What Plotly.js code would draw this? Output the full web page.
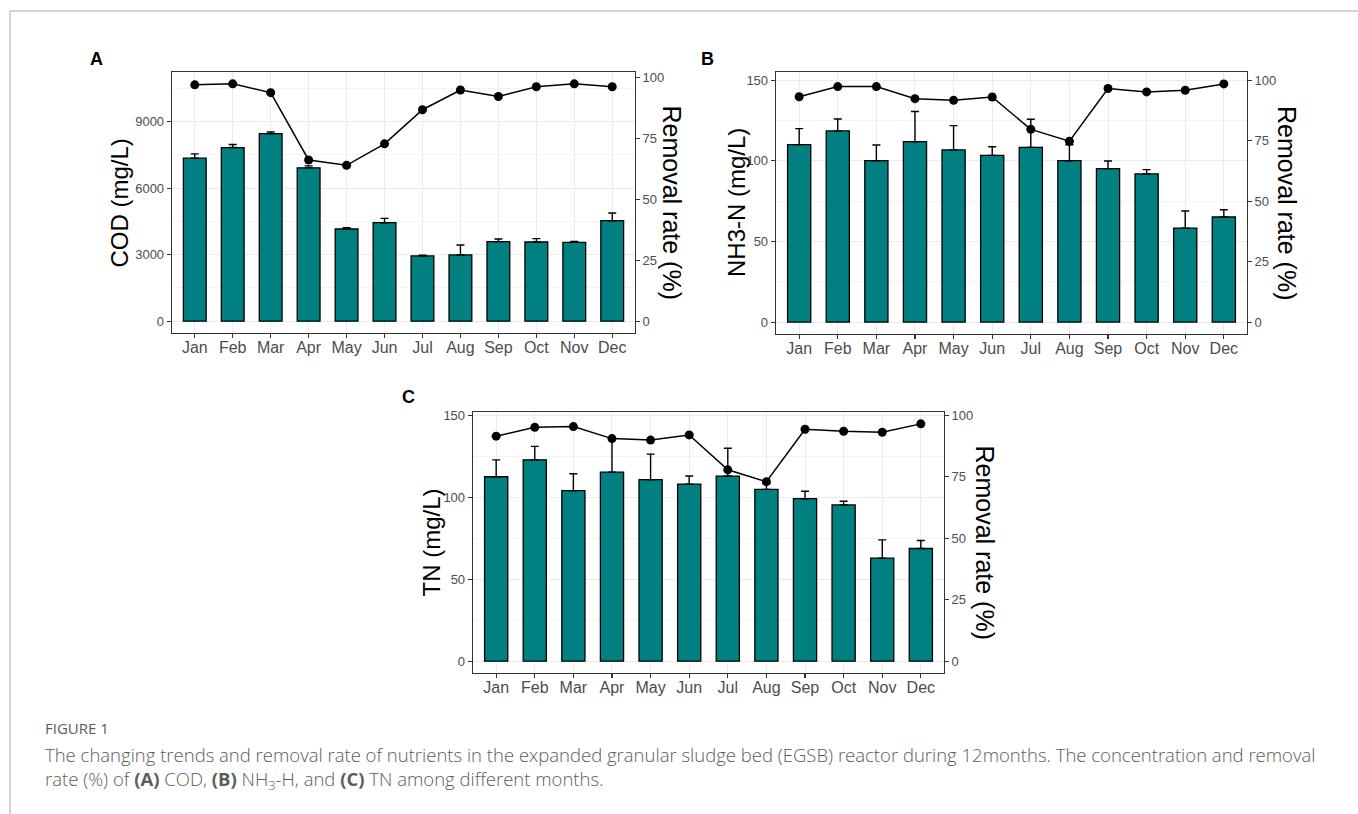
<!DOCTYPE html>
<html>
<head>
<meta charset="utf-8">
<script src="https://cdn.plot.ly/plotly-3.0.1.min.js"></script>
<style>
  html, body { margin: 0; padding: 0; background: #ffffff; }
  #chart { width: 1358px; height: 814px; }
</style>
</head>
<body>
<div id="chart"></div>
<script>
// ---------------- data ----------------
const months = ['Jan', 'Feb', 'Mar', 'Apr', 'May', 'Jun', 'Jul', 'Aug', 'Sep', 'Oct', 'Nov', 'Dec'];

// (A) COD, mg/L
const codMean    = [7350, 7830, 8460, 6915, 4155, 4440, 2940, 2985, 3585, 3570, 3555, 4530];
const codSD      = [195, 135, 75, 90, 60, 195, 30, 450, 120, 150, 45, 345];
const codRemoval = [96.9, 97.3, 93.7, 66.1, 63.9, 72.7, 86.7, 94.8, 92.1, 96.1, 97.3, 96.1];

// (B) NH3-N, mg/L
const nh3Mean    = [110.1, 118.6, 100.1, 111.9, 106.8, 103.4, 108.4, 100.1, 95.2, 91.9, 58.3, 65.2];
const nh3SD      = [9.9, 7.4, 9.8, 18.7, 15.1, 5.4, 17.4, 9.9, 4.7, 2.7, 10.6, 4.5];
const nh3Removal = [93.2, 97.4, 97.4, 92.4, 91.7, 93.1, 79.7, 74.8, 96.6, 95.2, 95.9, 98.5];

// (C) TN, mg/L
const tnMean     = [112.5, 122.8, 104.0, 115.3, 110.7, 108.0, 112.9, 104.8, 99.1, 95.3, 62.8, 68.7];
const tnSD       = [10.3, 8.2, 10.3, 19.7, 15.6, 4.9, 17.0, 3.4, 4.5, 2.2, 11.2, 4.9];
const tnRemoval  = [91.5, 95.1, 95.4, 90.5, 89.9, 92.0, 77.8, 73.0, 94.3, 93.5, 93.1, 96.5];

// secondary-axis scale factors (concentration = rate * factor)
const codFactor = 110;
const nFactor = 1.5;

// axis tick steps
const codTickStep = 3000;
const nTickStep = 50;
const rateTickStep = 25;

// text
const panelLetters = ['A', 'B', 'C'];
const leftTitles = ['COD (mg/L)', 'NH3-N (mg/L)', 'TN (mg/L)'];
const rightTitle = 'Removal rate (%)';
const captionHead = 'FIGURE 1';
const captionLine1 = 'The changing trends and removal rate of nutrients in the expanded granular sludge bed (EGSB) reactor during 12months. The concentration and removal';
const captionLine2 = 'rate (%) of <b>(A)</b> COD, <b>(B)</b> NH<sub>3</sub>-H, and <b>(C)</b> TN among different months.';

// ---------------- layout helpers ----------------
const W = 1358, H = 814;
const fx = p => p / W;
const fy = p => 1 - p / H;

const TEAL = '#008080';
const FRAME = '#333333';
const GRID = '#ebebeb';
const GRID_MINOR = '#f3f3f3';
const TICKTXT = '#4d4d4d';
const SANS = 'Liberation Sans, Arial, sans-serif';

const panels = [
  { mean: codMean, sd: codSD, rate: codRemoval, factor: codFactor, step: codTickStep,
    frame: { l: 172, r: 635, t: 72, b: 333 }, letter: { x: 96, y: 59 },
    leftX: 119, rightX: 671 },
  { mean: nh3Mean, sd: nh3SD, rate: nh3Removal, factor: nFactor, step: nTickStep,
    frame: { l: 776, r: 1247, t: 72, b: 334 }, letter: { x: 707, y: 59 },
    leftX: 736, rightX: 1287 },
  { mean: tnMean, sd: tnSD, rate: tnRemoval, factor: nFactor, step: nTickStep,
    frame: { l: 473, r: 944, t: 412, b: 673 }, letter: { x: 408, y: 397 },
    leftX: 431, rightX: 985 }
];

const data = [];
const layout = {
  width: W, height: H,
  margin: { l: 0, r: 0, t: 0, b: 0, pad: 0 },
  paper_bgcolor: '#ffffff',
  plot_bgcolor: '#ffffff',
  showlegend: false,
  font: { family: SANS, color: '#000' },
  annotations: [],
  shapes: [
    { type: 'line', xref: 'paper', yref: 'paper', x0: fx(10), x1: 1, y0: fy(11), y1: fy(11),
      line: { color: '#c6c6c6', width: 1.5 } },
    { type: 'line', xref: 'paper', yref: 'paper', x0: fx(10), x1: fx(10), y0: fy(11), y1: 0,
      line: { color: '#c6c6c6', width: 1.5 } }
  ]
};

panels.forEach((p, i) => {
  const xa = i === 0 ? 'x' : 'x' + (i + 1);
  const ya = 'y' + (i === 0 ? '' : (2 * i + 1));
  const ya2 = 'y' + (2 * i + 2);
  const xKey = 'xaxis' + (i === 0 ? '' : (i + 1));
  const yKey = 'yaxis' + (i === 0 ? '' : (2 * i + 1));
  const y2Key = 'yaxis' + (2 * i + 2);

  // ggplot-like range: data 0..max, 5% expansion
  const maxTop = Math.max(
    Math.max(...p.mean.map((m, k) => m + p.sd[k])),
    Math.max(...p.rate.map(r => r * p.factor))
  );
  const yr = [-0.05 * maxTop, 1.05 * maxTop];

  data.push({
    type: 'bar', x: months, y: p.mean, xaxis: xa, yaxis: ya,
    width: 0.6,
    marker: { color: TEAL, line: { color: '#000', width: 1.3 } },
    error_y: { type: 'data', symmetric: false, array: p.sd, arrayminus: p.sd.map(() => 0),
               color: '#000', thickness: 1.4, width: 4 },
    hoverinfo: 'skip'
  });
  data.push({
    type: 'scatter', mode: 'lines+markers', x: months, y: p.rate, xaxis: xa, yaxis: ya2,
    line: { color: '#000', width: 1.5 },
    marker: { color: '#000', size: 9 },
    hoverinfo: 'skip'
  });

  layout[xKey] = {
    domain: [fx(p.frame.l), fx(p.frame.r)], anchor: ya,
    type: 'category', range: [-0.6, 11.6],
    showline: true, mirror: true, linecolor: FRAME, linewidth: 1.3,
    ticks: 'outside', ticklen: 4, tickwidth: 1.1, tickcolor: FRAME,
    ticklabelstandoff: -5,
    showgrid: true, gridcolor: GRID, gridwidth: 1, zeroline: false,
    tickfont: { family: SANS, size: 16, color: TICKTXT },
    fixedrange: true
  };
  layout[yKey] = {
    domain: [fy(p.frame.b), fy(p.frame.t)], anchor: xa,
    range: yr, tickmode: 'linear', tick0: 0, dtick: p.step,
    tickformat: 'd', separatethousands: false, exponentformat: 'none',
    showline: true, mirror: true, linecolor: FRAME, linewidth: 1.3,
    ticks: 'outside', ticklen: 4, tickwidth: 1.1, tickcolor: FRAME,
    showgrid: true, gridcolor: GRID, gridwidth: 1, zeroline: false,
    minor: { dtick: p.step / 2, tick0: 0, showgrid: true, gridcolor: GRID_MINOR, gridwidth: 1, ticks: '' },
    tickfont: { family: SANS, size: 13, color: TICKTXT },
    fixedrange: true
  };
  layout[y2Key] = {
    overlaying: ya, anchor: xa, side: 'right',
    range: [yr[0] / p.factor, yr[1] / p.factor], tickmode: 'linear', tick0: 0, dtick: rateTickStep,
    showline: false, showgrid: false, zeroline: false,
    ticks: 'outside', ticklen: 4, tickwidth: 1.1, tickcolor: FRAME,
    tickfont: { family: SANS, size: 13, color: TICKTXT },
    fixedrange: true
  };

  const cy = (p.frame.t + p.frame.b) / 2;
  layout.annotations.push(
    { xref: 'paper', yref: 'paper', x: fx(p.letter.x), y: fy(p.letter.y), text: '<b>' + panelLetters[i] + '</b>',
      showarrow: false, xanchor: 'center', yanchor: 'middle', font: { family: SANS, size: 18, color: '#000' } },
    { xref: 'paper', yref: 'paper', x: fx(p.leftX), y: fy(cy), text: leftTitles[i], textangle: -90,
      showarrow: false, xanchor: 'center', yanchor: 'middle', font: { family: SANS, size: 24, color: '#000' } },
    { xref: 'paper', yref: 'paper', x: fx(p.rightX), y: fy(cy), text: rightTitle, textangle: 90,
      showarrow: false, xanchor: 'center', yanchor: 'middle', font: { family: SANS, size: 25, color: '#000' } }
  );
});

// caption (two lines in one text block)
const CAP = 'Open Sans, Noto Sans, sans-serif';
layout.annotations.push(
  { xref: 'paper', yref: 'paper', x: fx(43), y: fy(728), text: captionHead, showarrow: false,
    xanchor: 'left', yanchor: 'middle', align: 'left', font: { family: CAP, size: 15, color: '#5c5c5c' } },
  { xref: 'paper', yref: 'paper', x: fx(43), y: fy(740), text: captionLine1 + '<br>' + captionLine2, showarrow: false,
    xanchor: 'left', yanchor: 'top', align: 'left', font: { family: CAP, size: 18.5, weight: 300, color: '#5c5c5c' } }
);

Plotly.newPlot('chart', data, layout, { staticPlot: true, displayModeBar: false });
</script>
</body>
</html>
